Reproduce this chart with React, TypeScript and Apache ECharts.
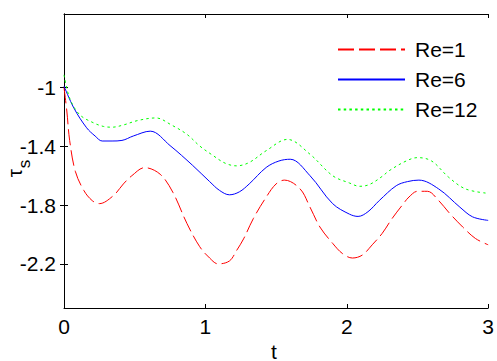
import React, { useEffect, useRef } from "react";
import * as echarts from "echarts";

const xTicks = [0, 1, 2, 3];
const yTickValues = [-1, -1.4, -1.8, -2.2];

const seriesNames = ["Re=1", "Re=6", "Re=12"];

const tRe1 = [0, 0.02, 0.04, 0.08, 0.14, 0.2, 0.25, 0.35, 0.42, 0.48, 0.57, 0.68, 0.77, 0.87, 0.96, 1.03, 1.09, 1.17, 1.22, 1.27, 1.34, 1.43, 1.5, 1.56, 1.67, 1.74, 1.81, 1.9, 1.97, 2.04, 2.11, 2.18, 2.25, 2.32, 2.4, 2.44, 2.5, 2.57, 2.65, 2.72, 2.82, 2.91, 3.0];
const vRe1 = [-1.0, -1.16, -1.36, -1.57, -1.7, -1.77, -1.79, -1.735, -1.656, -1.6, -1.545, -1.59, -1.713, -1.926, -2.083, -2.16, -2.2, -2.18, -2.11, -2.03, -1.89, -1.746, -1.656, -1.63, -1.69, -1.814, -1.949, -2.06, -2.13, -2.16, -2.14, -2.07, -1.993, -1.892, -1.791, -1.745, -1.706, -1.706, -1.769, -1.848, -1.949, -2.027, -2.07];

const tRe6 = [0, 0.07, 0.16, 0.22, 0.27, 0.34, 0.41, 0.49, 0.61, 0.75, 0.91, 1.03, 1.1, 1.17, 1.24, 1.31, 1.43, 1.52, 1.6, 1.74, 1.9, 2.02, 2.08, 2.15, 2.23, 2.35, 2.43, 2.51, 2.65, 2.8, 2.89, 3.0];
const vRe6 = [-0.99, -1.14, -1.274, -1.33, -1.364, -1.364, -1.36, -1.33, -1.297, -1.395, -1.53, -1.64, -1.7, -1.73, -1.71, -1.656, -1.544, -1.5, -1.488, -1.6, -1.79, -1.862, -1.877, -1.845, -1.769, -1.668, -1.64, -1.63, -1.69, -1.814, -1.88, -1.904];

const tRe12 = [0, 0.04, 0.11, 0.21, 0.28, 0.34, 0.42, 0.52, 0.65, 0.76, 0.87, 0.96, 1.05, 1.14, 1.22, 1.31, 1.43, 1.58, 1.74, 1.9, 2.02, 2.09, 2.16, 2.25, 2.3, 2.42, 2.5, 2.6, 2.72, 2.84, 3.0];
const vRe12 = [-0.914, -1.072, -1.184, -1.241, -1.265, -1.27, -1.255, -1.225, -1.207, -1.255, -1.319, -1.398, -1.46, -1.515, -1.533, -1.51, -1.43, -1.353, -1.454, -1.6, -1.65, -1.672, -1.66, -1.605, -1.566, -1.5, -1.477, -1.5, -1.61, -1.69, -1.72];

const FONT = "'Liberation Sans', Arial, sans-serif";

function zip(t: number[], v: number[]) {
  return t.map((x, i) => [x, v[i]]);
}

export default function App() {
  const ref = useRef<HTMLDivElement>(null);
  useEffect(() => {
    if (!ref.current) return;
    const chart = echarts.init(ref.current, null, { renderer: "svg" });
    const axisLine = { show: true, lineStyle: { color: "#000", width: 1 } };
    const tick = { show: true, inside: true, length: 4, lineStyle: { color: "#000", width: 1 } };
    chart.setOption({
      animation: false,
      backgroundColor: "#fff",
      textStyle: { fontFamily: FONT },
      grid: { left: 64, top: 14, right: 8, bottom: 53, containLabel: false },
      legend: {
        orient: "vertical",
        left: 332,
        top: 34,
        itemWidth: 67,
        itemHeight: 10,
        itemGap: 9,
        data: seriesNames,
        itemStyle: { opacity: 0 },
        textStyle: { fontSize: 21, lineHeight: 21, color: "#000", fontFamily: FONT, padding: [0, 0, 0, 5] },
      },
      xAxis: [
        {
          type: "value",
          min: 0,
          max: 3,
          interval: 1,
          position: "bottom",
          axisLine,
          axisTick: tick,
          splitLine: { show: false },
          axisLabel: { color: "#000", fontSize: 21, fontFamily: FONT, margin: 8, customValues: xTicks },
        },
        {
          type: "value",
          min: 0,
          max: 3,
          interval: 1,
          position: "top",
          axisLine,
          axisTick: tick,
          splitLine: { show: false },
          axisLabel: { show: false },
        },
      ],
      yAxis: [
        {
          type: "value",
          min: -2.5,
          max: -0.5,
          position: "left",
          axisLine,
          axisTick: { ...tick, customValues: yTickValues },
          splitLine: { show: false },
          axisLabel: { color: "#000", fontSize: 21, fontFamily: FONT, margin: 8, customValues: yTickValues },
        },
        {
          type: "value",
          min: -2.5,
          max: -0.5,
          position: "right",
          axisLine,
          axisTick: { ...tick, customValues: yTickValues },
          splitLine: { show: false },
          axisLabel: { show: false },
        },
      ],
      series: [
        {
          name: seriesNames[0],
          type: "line",
          data: zip(tRe1, vRe1),
          symbol: "none",
          smooth: 0.35,
          lineStyle: { color: "#ff0000", width: 1, type: [16, 5] },
          itemStyle: { color: "#ff0000" },
        },
        {
          name: seriesNames[1],
          type: "line",
          data: zip(tRe6, vRe6),
          symbol: "none",
          smooth: 0.35,
          lineStyle: { color: "#0000ff", width: 1, type: "solid" },
          itemStyle: { color: "#0000ff" },
        },
        {
          name: seriesNames[2],
          type: "line",
          data: zip(tRe12, vRe12),
          symbol: "none",
          smooth: 0.35,
          lineStyle: { color: "#00ff00", width: 1, type: [2.5, 3.2] },
          itemStyle: { color: "#00ff00" },
        },
      ],
      graphic: [
        {
          type: "text",
          x: 14,
          y: 173,
          rotation: Math.PI / 2,
          style: { text: "τ", fontSize: 21, fontFamily: FONT, fill: "#000", textAlign: "center", textVerticalAlign: "middle" },
        },
        {
          type: "text",
          x: 24,
          y: 164,
          rotation: Math.PI / 2,
          style: { text: "s", fontSize: 17, fontFamily: FONT, fill: "#000", textAlign: "center", textVerticalAlign: "middle" },
        },
        {
          type: "text",
          x: 274,
          y: 351,
          style: { text: "t", fontSize: 21, fontFamily: FONT, fill: "#000", textAlign: "center", textVerticalAlign: "middle" },
        },
      ],
    });
    return () => chart.dispose();
  }, []);
  return (
    <div
      ref={ref}
      style={{ position: "fixed", left: 0, top: 0, width: 497, height: 361, background: "#fff" }}
    />
  );
}
